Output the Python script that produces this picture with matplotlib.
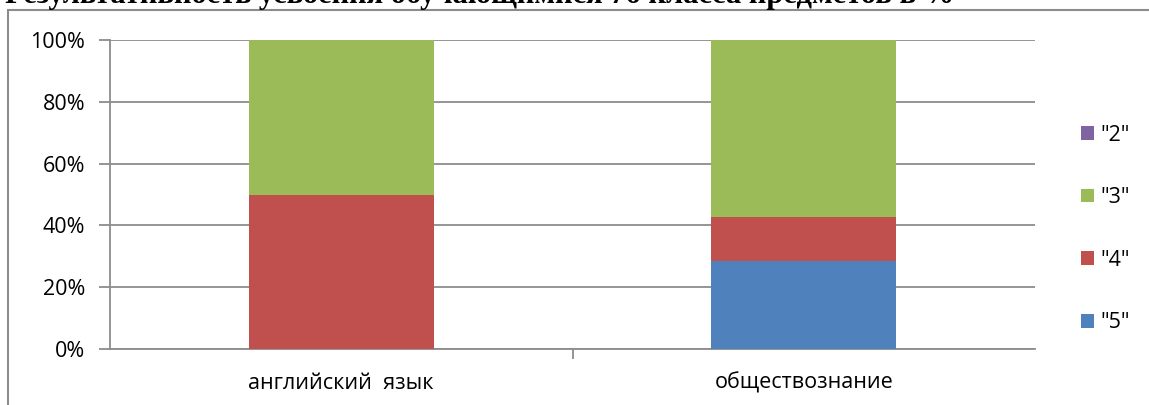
import matplotlib
matplotlib.use("Agg")
import matplotlib.pyplot as plt
import numpy as np
from matplotlib.patches import Rectangle

# данные
predmety = ["английский  язык", "обществознание"]
ocenki = ['"5"', '"4"', '"3"', '"2"']
v5 = [0.0, 28.57]
v4 = [50.0, 14.29]
v3 = [50.0, 57.14]
v2 = [0.0, 0.0]
tsveta = ["#4F81BD", "#C0504D", "#9BBB59", "#8064A2"]
titul = "Результативность усвоения обучающимися 7б класса предметов в %"

plt.rcParams['font.family'] = ['Open Sans', 'DejaVu Sans']

fig = plt.figure(figsize=(11.49, 4.05), dpi=100)
ax = fig.add_axes([110/1149, 1-349/405, 925/1149, 309/405])

x = np.arange(len(predmety))
niz = np.zeros(len(predmety))
for znach, lab, c in zip([v5, v4, v3, v2], ocenki, tsveta):
    ax.bar(x, znach, 0.4, bottom=niz, color=c, label=lab, zorder=3)
    niz = niz + np.array(znach)

ax.set_xlim(-0.5, 1.5)
ax.set_ylim(0, 100)
ax.set_yticks(np.arange(0, 101, 20))
ax.set_yticklabels([str(v) + "%" for v in range(0, 101, 20)], fontsize=15.5)
ax.yaxis.grid(True, color="#8c8c8c", lw=1.3, zorder=0)
ax.set_xticks(x)
ax.set_xticklabels(predmety, fontsize=15.5)
ax.set_xticks([0.5], minor=True)
ax.tick_params(axis='x', which='major', length=0, pad=17)
ax.tick_params(axis='x', which='minor', length=7, color="#8c8c8c", width=1.3)
ax.tick_params(axis='y', length=8, color="#8c8c8c", width=1.3, pad=10)
for s in ["top", "right"]:
    ax.spines[s].set_visible(False)
for s in ["left", "bottom"]:
    ax.spines[s].set_color("#8c8c8c")
    ax.spines[s].set_linewidth(1.3)

h, l = ax.get_legend_handles_labels()
leg = fig.legend(h[::-1], l[::-1], loc="center left", bbox_to_anchor=(1062/1149, 1-229/405),
                 frameon=False, fontsize=15.5, handlelength=0.6, handleheight=0.6,
                 labelspacing=1.93, handletextpad=0.3)

# рамка диаграммы
fig.patches.append(Rectangle((8/1149, -0.1), 1.2, 1.1 - 10/405, transform=fig.transFigure,
                             fill=False, ec="#8c8c8c", lw=1.5))
fig.text(5/1149, 1 - 3/405, titul, fontsize=22, fontweight="bold",
         family="Liberation Serif", va="baseline", ha="left")

fig.savefig("out.png", dpi=100)
